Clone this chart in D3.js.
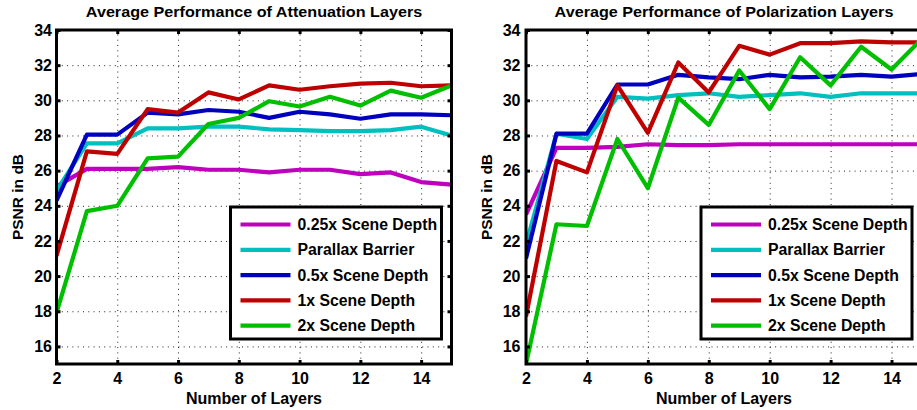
<!DOCTYPE html>
<html>
<head>
<meta charset="utf-8">
<script src="https://cdn.jsdelivr.net/npm/d3@7"></script>
<style>
  html, body { margin: 0; padding: 0; background: #fff; }
  svg { display: block; }
  text { font-family: "Liberation Sans", Arial, Helvetica, sans-serif; font-weight: bold; fill: #000; }
</style>
</head>
<body>
<svg id="chart" width="917" height="410"></svg>
<script>
// ---- data ----
const layers = [2, 3, 4, 5, 6, 7, 8, 9, 10, 11, 12, 13, 14, 15];
const xTicks = [2, 4, 6, 8, 10, 12, 14];
const yTicks = [16, 18, 20, 22, 24, 26, 28, 30, 32, 34];
const seriesNames = ["0.25x Scene Depth", "Parallax Barrier", "0.5x Scene Depth", "1x Scene Depth", "2x Scene Depth"];
const seriesColors = ["#bf00bf", "#00bfbf", "#0000bf", "#bf0000", "#00bf00"];
const panelTitles = ["Average Performance of Attenuation Layers", "Average Performance of Polarization Layers"];

const attQuarter = [25.1, 26.1, 26.1, 26.1, 26.2, 26.05, 26.05, 25.9, 26.05, 26.05, 25.8, 25.9, 25.35, 25.2];
const attBarrier = [24.85, 27.55, 27.55, 28.4, 28.4, 28.5, 28.5, 28.35, 28.3, 28.25, 28.25, 28.3, 28.5, 28.0];
const attHalf = [24.3, 28.05, 28.05, 29.3, 29.2, 29.45, 29.35, 29.0, 29.35, 29.2, 28.95, 29.2, 29.2, 29.15];
const attOne = [21.15, 27.1, 26.95, 29.5, 29.3, 30.45, 30.05, 30.85, 30.6, 30.8, 30.95, 31.0, 30.8, 30.85];
const attTwo = [17.9, 23.7, 24.0, 26.7, 26.8, 28.65, 29.0, 29.95, 29.65, 30.2, 29.7, 30.55, 30.15, 30.85];

const polQuarter = [23.5, 27.3, 27.3, 27.35, 27.5, 27.45, 27.45, 27.5, 27.5, 27.5, 27.5, 27.5, 27.5, 27.5];
const polBarrier = [21.8, 28.1, 27.8, 30.2, 30.1, 30.3, 30.4, 30.2, 30.3, 30.4, 30.2, 30.4, 30.4, 30.4];
const polHalf = [21.0, 28.1, 28.1, 30.9, 30.9, 31.45, 31.3, 31.2, 31.45, 31.3, 31.35, 31.45, 31.35, 31.5];
const polOne = [17.7, 26.55, 25.9, 30.85, 28.15, 32.15, 30.45, 33.1, 32.6, 33.25, 33.25, 33.35, 33.3, 33.3];
const polTwo = [15.0, 22.95, 22.85, 27.8, 25.0, 30.15, 28.6, 31.7, 29.5, 32.45, 30.85, 33.05, 31.75, 33.5];

const panelSeries = [
  [attQuarter, attBarrier, attHalf, attOne, attTwo],
  [polQuarter, polBarrier, polHalf, polOne, polTwo]
];

// ---- layout ----
const svg = d3.select("#chart");
const panels = [
  { left: 56.5, right: 451.5, tickPad: 4.5 },
  { left: 526, right: 922, tickPad: 5.5 }
];
const plotTop = 30, plotBottom = 364;
const FS = 15.5;

panels.forEach((p, pi) => {
  const x = d3.scaleLinear().domain([2, 15]).range([p.left, p.right]);
  const y = d3.scaleLinear().domain([15, 34]).range([plotBottom, plotTop]);
  const g = svg.append("g");
  const clipId = "clip" + pi;
  svg.append("clipPath").attr("id", clipId)
    .append("rect").attr("x", p.left).attr("y", plotTop)
    .attr("width", p.right - p.left).attr("height", plotBottom - plotTop);

  // grid
  const gx = g.append("g").attr("transform", `translate(0,${plotBottom})`)
    .call(d3.axisBottom(x).tickValues(xTicks).tickSize(-(plotBottom - plotTop)).tickFormat(""));
  const gy = g.append("g").attr("transform", `translate(${p.left},0)`)
    .call(d3.axisLeft(y).tickValues(yTicks).tickSize(-(p.right - p.left)).tickFormat(""));
  [gx, gy].forEach(a => {
    a.select(".domain").remove();
    a.selectAll("line").attr("stroke", "#222").attr("stroke-width", 1).attr("stroke-dasharray", "1,4.3");
  });

  // series lines
  const line = d3.line().x((d, i) => x(layers[i])).y(d => y(d));
  const lg = g.append("g").attr("clip-path", `url(#${clipId})`);
  panelSeries[pi].forEach((vals, si) => {
    lg.append("path").datum(vals)
      .attr("d", line)
      .attr("fill", "none")
      .attr("stroke", seriesColors[si])
      .attr("stroke-width", 4.2)
      .attr("stroke-linejoin", "round");
  });

  // tick marks (inward on all sides)
  const tickLen = 4;
  const axB = g.append("g").attr("transform", `translate(0,${plotBottom})`)
    .call(d3.axisBottom(x).tickValues(xTicks).tickSize(-tickLen).tickPadding(8.5).tickFormat(d3.format("d")));
  const axT = g.append("g").attr("transform", `translate(0,${plotTop})`)
    .call(d3.axisTop(x).tickValues(xTicks).tickSize(-tickLen).tickFormat(""));
  const axL = g.append("g").attr("transform", `translate(${p.left},0)`)
    .call(d3.axisLeft(y).tickValues(yTicks).tickSize(-tickLen).tickPadding(p.tickPad).tickFormat(d3.format("d")));
  const axR = g.append("g").attr("transform", `translate(${p.right},0)`)
    .call(d3.axisRight(y).tickValues(yTicks).tickSize(-tickLen).tickFormat(""));
  [axB, axT, axL, axR].forEach(a => {
    a.select(".domain").remove();
    a.selectAll("line").attr("stroke", "#000").attr("stroke-width", 3);
    a.selectAll("text").style("font-size", "16px").style("font-weight", "bold")
      .style("font-family", '"Liberation Sans", Arial, sans-serif').attr("fill", "#000");
  });

  // box
  g.append("rect").attr("x", p.left).attr("y", plotTop)
    .attr("width", p.right - p.left).attr("height", plotBottom - plotTop)
    .attr("fill", "none").attr("stroke", "#000").attr("stroke-width", 3);

  // title
  const cx = (p.left + p.right) / 2;
  svg.append("g").attr("transform", `translate(${cx},17) scale(1.115,1)`)
    .append("text").attr("text-anchor", "middle")
    .style("font-size", "14.5px").text(panelTitles[pi]);
  // x label
  svg.append("text").attr("x", cx).attr("y", 404).attr("text-anchor", "middle")
    .style("font-size", "16px").text("Number of Layers");
  // y label
  svg.append("text")
    .attr("transform", `translate(${p.left - 34},${(plotTop + plotBottom) / 2}) rotate(-90)`)
    .attr("text-anchor", "middle")
    .style("font-size", FS + "px").text("PSNR in dB");

  // legend
  const bx = p.right - 221, bw = 211, by = 207, bh = 132;
  const leg = svg.append("g");
  leg.append("rect").attr("x", bx).attr("y", by).attr("width", bw).attr("height", bh)
    .attr("fill", "#fff").attr("stroke", "#000").attr("stroke-width", 3);
  seriesNames.forEach((name, si) => {
    const ly = by + 17.5 + si * 25.3;
    leg.append("line").attr("x1", bx + 10).attr("x2", bx + 60).attr("y1", ly).attr("y2", ly)
      .attr("stroke", seriesColors[si]).attr("stroke-width", 4.2);
    leg.append("text").attr("x", bx + 67).attr("y", ly).attr("dy", "0.36em")
      .style("font-size", "15.8px").text(name);
  });
});
</script>
</body>
</html>
